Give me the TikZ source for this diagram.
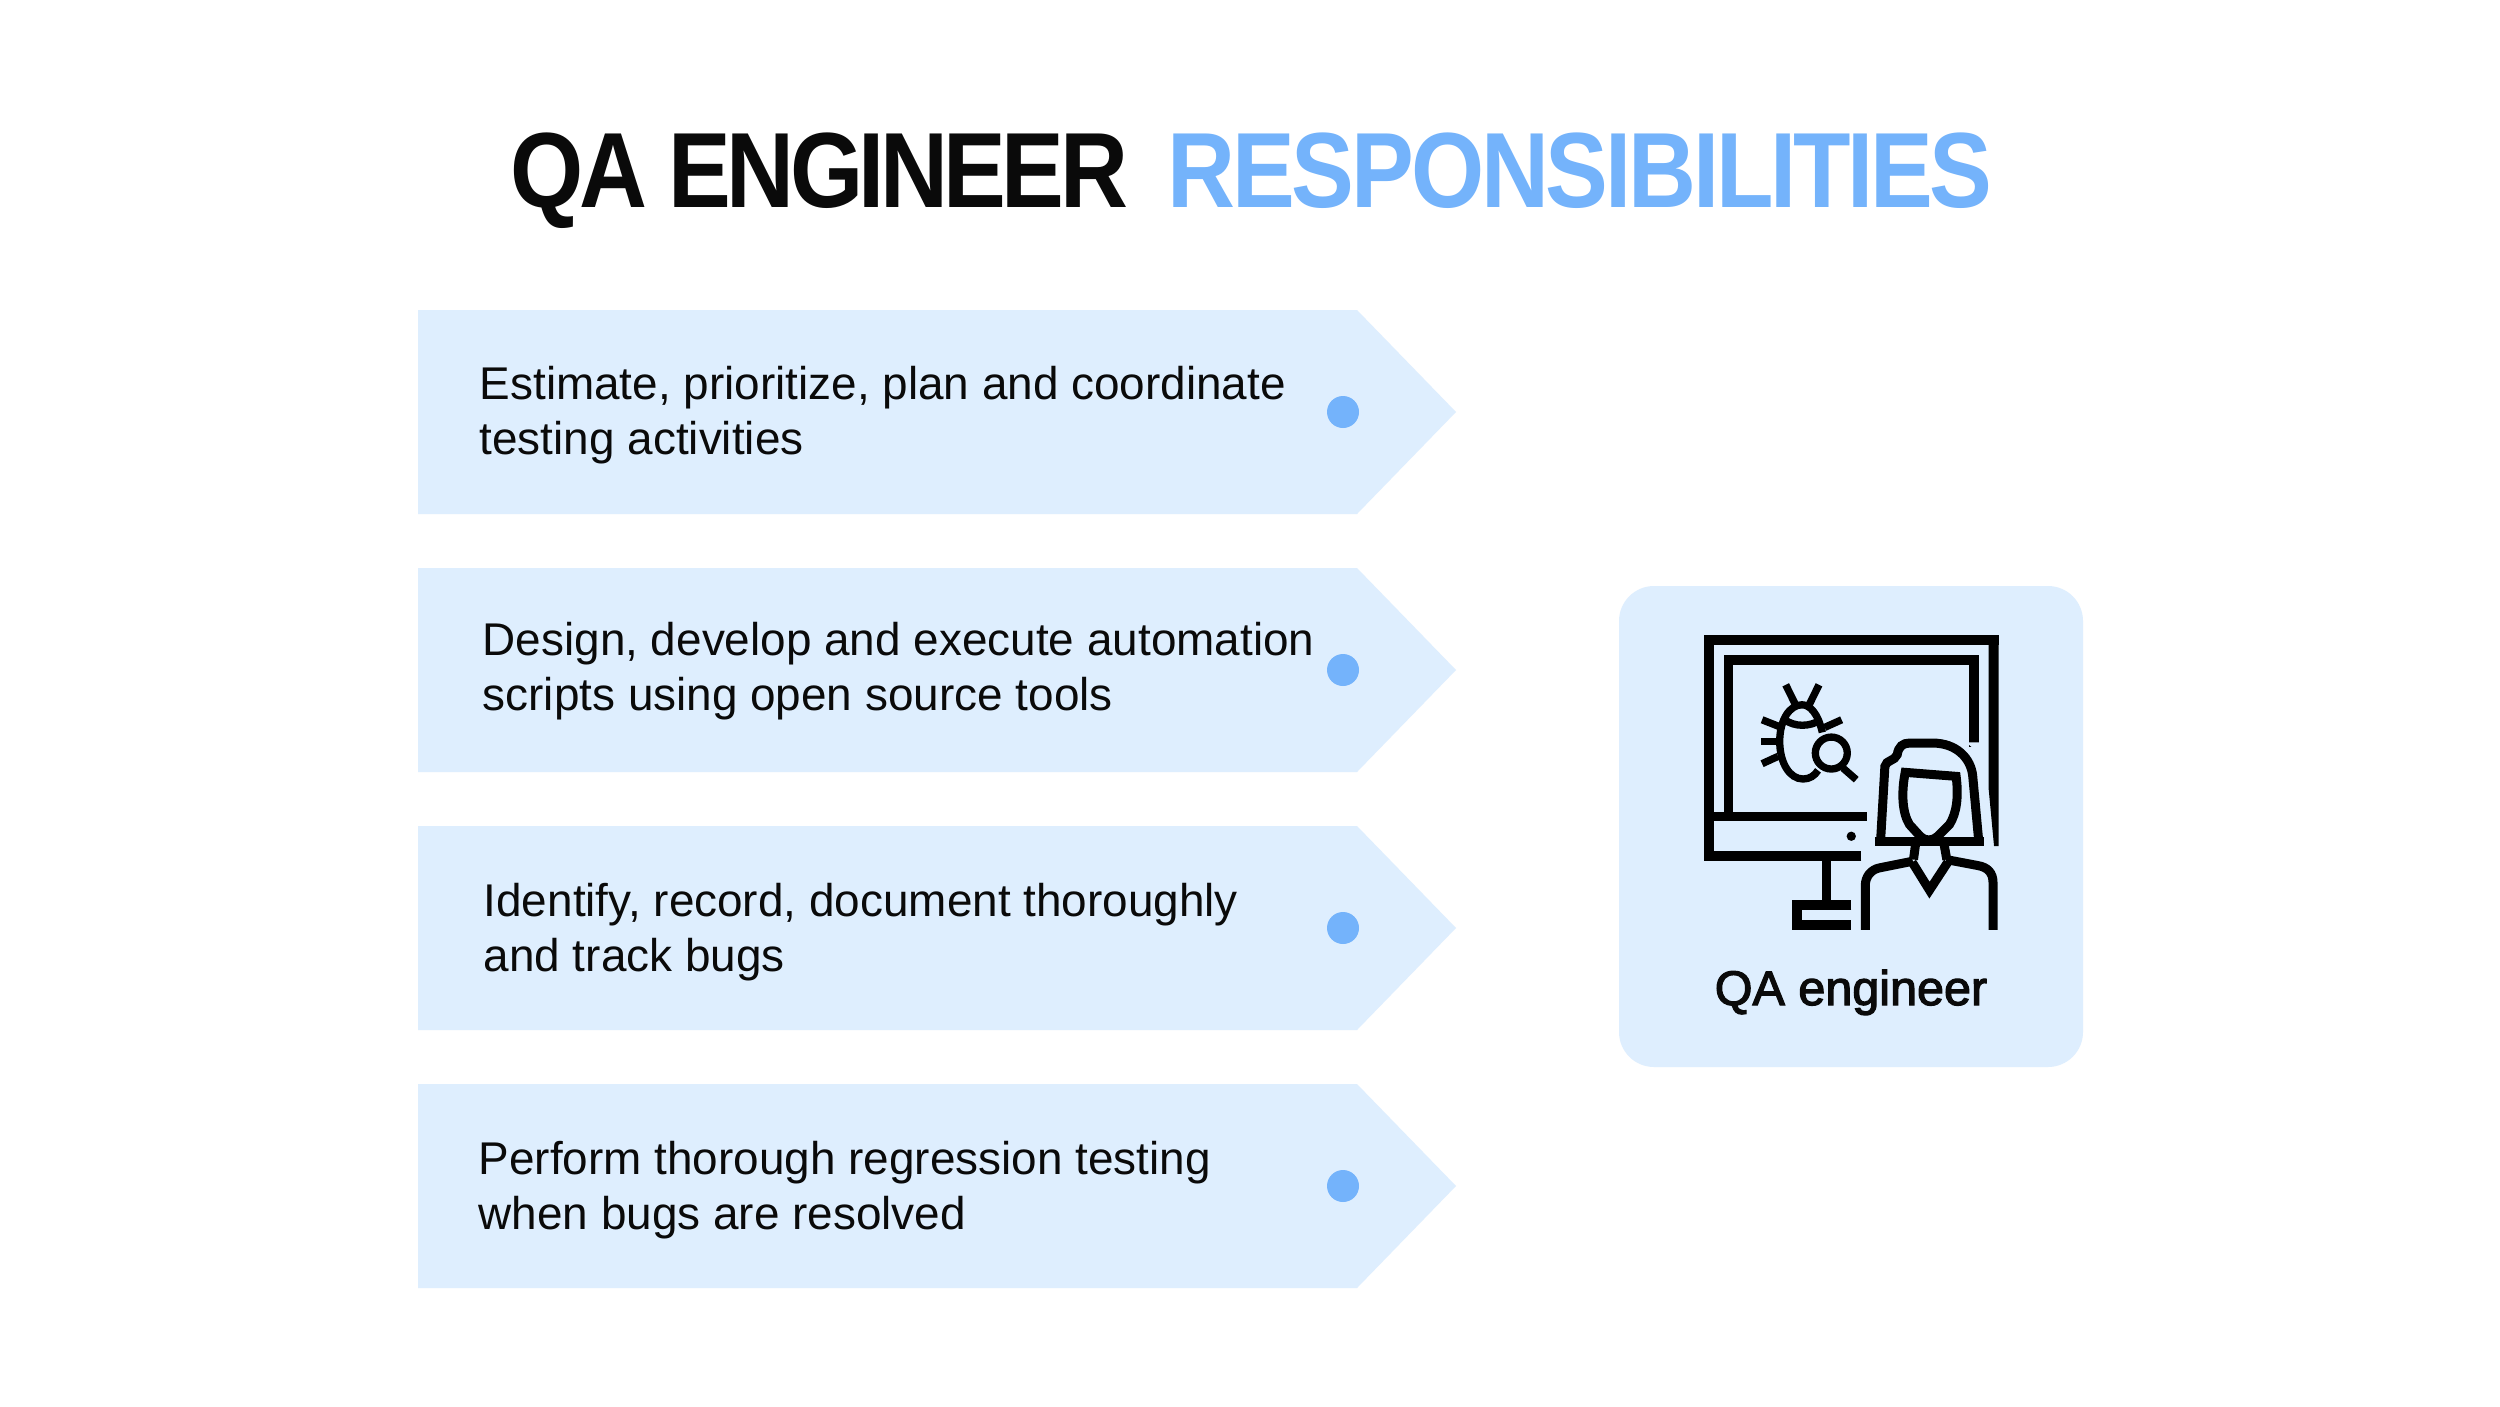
\documentclass[tikz,border=0pt]{standalone}
\usepackage{fontspec}
\setmainfont{Liberation Sans}
\newfontfamily\titlefont[FakeStretch=0.88,LetterSpace=-4.3]{Liberation Sans}
\newfontfamily\titlewidefont[FakeStretch=0.88,LetterSpace=-3.0]{Liberation Sans}
\newfontfamily\mediumfont[FakeBold=2.5]{Liberation Sans}
\definecolor{paleblue}{HTML}{DEEEFE}
\definecolor{midblue}{HTML}{74B3FB}
\definecolor{inkblack}{HTML}{0A0A0A}
\tikzset{
  itemtext/.style={anchor=west,align=left,inner sep=0pt,text=inkblack,
    font=\fontsize{13.05pt}{15.65pt}\selectfont},
  titletext/.style={anchor=base west,inner sep=0pt},
  iconline/.style={draw=black,line width=29*0.00333cm,line cap=butt,line join=miter},
  personline/.style={iconline,line width=27*0.00333cm},
  bugline/.style={draw=black,line width=22*0.00333cm}
}

\begin{document}
\begin{tikzpicture}[x=0.01cm,y=-0.01cm]
  \useasboundingbox (0,0) rectangle (2500,1406);
  \fill[white] (0,0) rectangle (2500,1406);

  % Titulo
  \node[titletext,text=inkblack,font=\fontsize{30.4pt}{32pt}\titlefont\bfseries] (titleleft) at (510,207) {QA ENGINEER};
  \node[titletext,text=midblue,font=\fontsize{30.4pt}{32pt}\titlewidefont\bfseries] (titleright) at (1167,207) {RESPONSIBILITIES};

  % Flechas con punto
  \foreach \ytop in {310,568,826,1084} {
    \fill[paleblue] (418,\ytop) -- (1357,\ytop) -- (1456,\ytop+102) -- (1357,\ytop+204) -- (418,\ytop+204) -- cycle;
    \fill[midblue] (1343,\ytop+102) circle (16);
  }

  % Textos de las flechas
  \node[itemtext] (item1) at (479,415) {Estimate, prioritize, plan and coordinate\\testing activities};
  \node[itemtext] (item2) at (482,671) {Design, develop and execute automation\\scripts using open source tools};
  \node[itemtext] (item3) at (483,932) {Identify, record, document thoroughly\\and track bugs};
  \node[itemtext] (item4) at (478,1190) {Perform thorough regression testing\\when bugs are resolved};

  % Tarjeta
  \fill[paleblue,rounded corners=0.35cm] (1619,586) rectangle (2083,1067);
  \node[anchor=base,inner sep=0pt,text=inkblack,font=\fontsize{13.8pt}{16pt}\mediumfont] (cardlabel) at (1851,1005) {QA engineer};

  % Icono (en unidades de un tercio de pixel)
  \begin{scope}[shift={(1600,570)},x=0.00333cm,y=-0.00333cm]
    % Monitor
    \draw[iconline] (785,860) -- (327,860) -- (327,211) -- (1198,211);
    \fill[black] (1168,211) -- (1198,211) -- (1198,830) -- (1184,830) -- (1168,660) -- cycle;
    \draw[iconline] (386,740) -- (386,270) -- (1123,270) -- (1123,533);
    \fill[paleblue] (1100,518) -- (1145,518) -- (1145,555) -- cycle;
    \draw[iconline] (340,741) -- (803,741);
    \fill[black] (755,800) circle (14);
    \draw[iconline] (681,875) -- (681,1005);
    \draw[iconline] (755,1007) -- (592,1007) -- (592,1066) -- (755,1066);
    % Bicho
    \draw[bugline] (558,345) -- (590,410);
    \draw[bugline] (658,345) -- (626,410);
    \draw[bugline] (487,450) -- (545,473);
    \draw[bugline] (484,515) -- (535,515);
    \draw[bugline] (487,582) -- (535,560);
    \draw[bugline] (726,450) -- (675,473);
    \draw[bugline] (668,488) .. controls (655,430) and (630,405) .. (607,405) .. controls (570,405) and (540,450) .. (540,515) .. controls (540,580) and (570,628) .. (610,628) .. controls (630,628) and (645,618) .. (655,602);
    \draw[bugline] (555,450) .. controls (585,472) and (630,472) .. (664,450);
    \draw[bugline] (695,550) circle (48);
    \draw[bugline] (730,595) -- (770,630);
    % Persona
    \draw[personline] (826,815) -- (1153,815);
    \draw[personline] (843,815) -- (856,590) .. controls (860,570) and (885,575) .. (893,555) .. controls (897,530) and (910,520) .. (930,520) -- (1000,520) .. controls (1070,520) and (1115,565) .. (1120,620) -- (1138,815);
    \draw[personline] (917,608) -- (1070,620) .. controls (1078,680) and (1072,730) .. (1050,765) -- (1015,800) .. controls (1000,815) and (975,815) .. (962,800) -- (930,765) .. controls (908,730) and (905,670) .. (917,608) -- cycle;
    \draw[personline] (948,825) -- (942,870);
    \draw[personline] (1034,825) -- (1042,870);
    \draw[personline] (938,878) -- (990,962) -- (1045,878);
    \draw[personline] (797,1081) -- (797,950) .. controls (797,920) and (815,900) .. (840,895) -- (940,875);
    \draw[personline] (1181,1081) -- (1181,940) .. controls (1181,910) and (1165,893) .. (1135,888) -- (1040,870);
  \end{scope}
\end{tikzpicture}
\end{document}
